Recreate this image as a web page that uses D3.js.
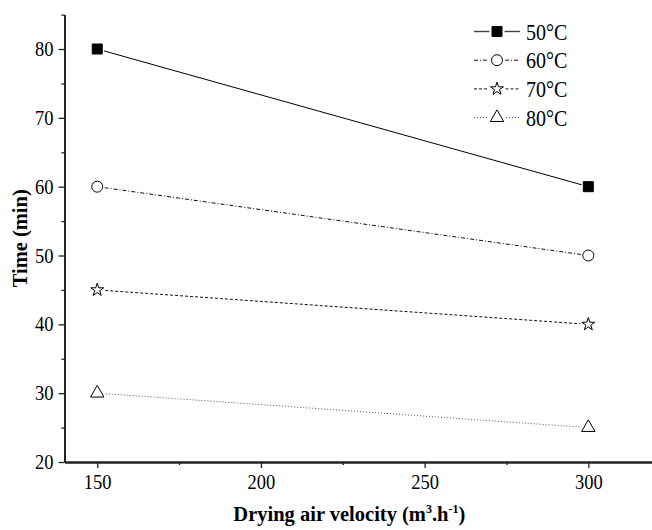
<!DOCTYPE html>
<html>
<head>
<meta charset="utf-8">
<script src="https://cdn.jsdelivr.net/npm/d3@7"></script>
<style>
    body { margin: 0; background: #fff; }
    .axis text { font-family: "Liberation Serif", "Times New Roman", serif; font-size: 18.5px; fill: #000; }
    .axis line, .axis path { stroke: #222; }
    .titulo { font-family: "Liberation Serif", "Times New Roman", serif; font-size: 20.5px; font-weight: bold; }
    .leyenda text { font-family: "Liberation Serif", "Times New Roman", serif; font-size: 20px; }
</style>
</head>
<body>
<div class="secado-chart-container"></div>
<script>
// Tiempo de secado segun velocidad del aire
var velocidades = [150, 300];
var series = ["50°C", "60°C", "70°C", "80°C"];
var tiempo50 = [80, 60];
var tiempo60 = [60, 50];
var tiempo70 = [45, 40];
var tiempo80 = [30, 25];
var ticksX = [150, 200, 250, 300];
var ticksXMenores = [175, 225, 275];
var ticksY = [20, 30, 40, 50, 60, 70, 80];
var ticksYMenores = [25, 35, 45, 55, 65, 75, 85];

var datosSecado = [tiempo50, tiempo60, tiempo70, tiempo80];

var margin = { top: 14.6, right: 0, bottom: 68, left: 64.5 },
    widthSec = 652 - margin.left - margin.right,
    heightSec = 462 - margin.top;

var svgSec = d3.select('.secado-chart-container')
    .append('svg')
    .attr("width", 652)
    .attr("height", 530)
    .append("g")
    .attr("transform", "translate(" + margin.left + "," + margin.top + ")");

var x = d3.scaleLinear()
    .domain([140, 320])
    .range([0, 589.3]);

var y = d3.scaleLinear()
    .domain([20, 85])
    .range([heightSec, 0]);

// estilos de cada serie (radio = medio ancho del simbolo, para cortar la linea)
var estilos = [
    { simbolo: d3.symbolSquare, size: 100, radio: 5, fill: "#000", dash: null, color: "#000" },
    { simbolo: d3.symbolCircle, size: 95, radio: 5.5, fill: "#fff", dash: "4,2,1,2", color: "#111" },
    { simbolo: d3.symbolStar, size: 52, radio: 6, fill: "#fff", dash: "3,2", color: "#111" },
    { simbolo: d3.symbolTriangle, size: 78, radio: 6.5, fill: "#fff", dash: "1,2", color: "#555" }
];

// ejes
var xAxisSec = d3.axisBottom(x).tickValues(ticksX).tickSize(6).tickSizeOuter(0).tickPadding(5);
var xAxisMenor = d3.axisBottom(x).tickValues(ticksXMenores).tickSize(3).tickSizeOuter(0).tickFormat("");
var yAxisSec = d3.axisLeft(y).tickValues(ticksY).tickSize(6).tickSizeOuter(0).tickPadding(5);
var yAxisMenor = d3.axisLeft(y).tickValues(ticksYMenores).tickSize(3).tickSizeOuter(0).tickFormat("");

svgSec.append("g").attr("class", "axis")
    .attr("transform", "translate(0," + heightSec + ")")
    .call(xAxisSec);
svgSec.append("g").attr("class", "axis")
    .attr("transform", "translate(0," + heightSec + ")")
    .call(xAxisMenor);
svgSec.append("g").attr("class", "axis")
    .call(yAxisSec);
svgSec.append("g").attr("class", "axis")
    .call(yAxisMenor);

svgSec.selectAll(".axis path").style("stroke-width", 2);
svgSec.selectAll(".axis line").style("stroke-width", 1.3);
// la fuente del original sale un poco estirada en vertical
svgSec.selectAll(".axis text").attr("transform", "scale(1,1.1)");

datosSecado.forEach(function(serie, k) {
    var est = estilos[k];
    // la linea se corta antes de cada simbolo, como en el original
    var x0 = x(velocidades[0]), y0 = y(serie[0]),
        x1 = x(velocidades[1]), y1 = y(serie[1]),
        largo = Math.sqrt((x1 - x0) * (x1 - x0) + (y1 - y0) * (y1 - y0)),
        corte = est.radio + 2,
        ux = (x1 - x0) / largo, uy = (y1 - y0) / largo;

    svgSec.append("line")
        .attr("x1", x0 + ux * corte).attr("y1", y0 + uy * corte)
        .attr("x2", x1 - ux * corte).attr("y2", y1 - uy * corte)
        .attr("stroke", est.color)
        .attr("stroke-width", 1)
        .attr("stroke-dasharray", est.dash);

    svgSec.selectAll(".punto" + k)
        .data(serie)
        .enter().append("path")
        .attr("transform", function(d, i) {
            return "translate(" + x(velocidades[i]) + "," + y(d) + ")";
        })
        .attr("d", d3.symbol().type(est.simbolo).size(est.size))
        .attr("fill", est.fill)
        .attr("stroke", "#000")
        .attr("stroke-width", 1);
});

// leyenda
var leyenda = svgSec.append("g")
    .attr("class", "leyenda")
    .attr("transform", "translate(" + (474 - margin.left) + "," + (31.5 - margin.top) + ")");

series.forEach(function(nombre, k) {
    var est = estilos[k];
    var fila = leyenda.append("g").attr("transform", "translate(0," + (k * 28.7) + ")");
    fila.append("line")
        .attr("x1", 0).attr("x2", 23 - est.radio - 2.5)
        .attr("stroke", k == 0 ? "#444" : est.color)
        .attr("stroke-width", k == 0 ? 1.4 : 1)
        .attr("stroke-dasharray", est.dash);
    fila.append("line")
        .attr("x1", 23 + est.radio + 2.5).attr("x2", 46)
        .attr("stroke", k == 0 ? "#444" : est.color)
        .attr("stroke-width", k == 0 ? 1.4 : 1)
        .attr("stroke-dasharray", est.dash);
    fila.append("path")
        .attr("transform", "translate(23,0)")
        .attr("d", d3.symbol().type(est.simbolo).size(est.size))
        .attr("fill", est.fill)
        .attr("stroke", "#000");
    fila.append("text")
        .attr("transform", "translate(52,0) scale(1,1.15)")
        .attr("dy", "0.35em")
        .text(nombre);
});

// titulos
svgSec.append("text")
    .attr("class", "titulo")
    .attr("x", x(227))
    .attr("y", heightSec + 59)
    .attr("text-anchor", "middle")
    .html('Drying air velocity (m<tspan dy="-8" font-size="12">3</tspan><tspan dy="8">.h</tspan><tspan dy="-8" font-size="12">-1</tspan><tspan dy="8">)</tspan>');

svgSec.append("text")
    .attr("class", "titulo")
    .attr("transform", "translate(" + (27 - margin.left) + "," + (heightSec / 2) + ") rotate(-90)")
    .attr("text-anchor", "middle")
    .text("Time (min)");
</script>
</body>
</html>
